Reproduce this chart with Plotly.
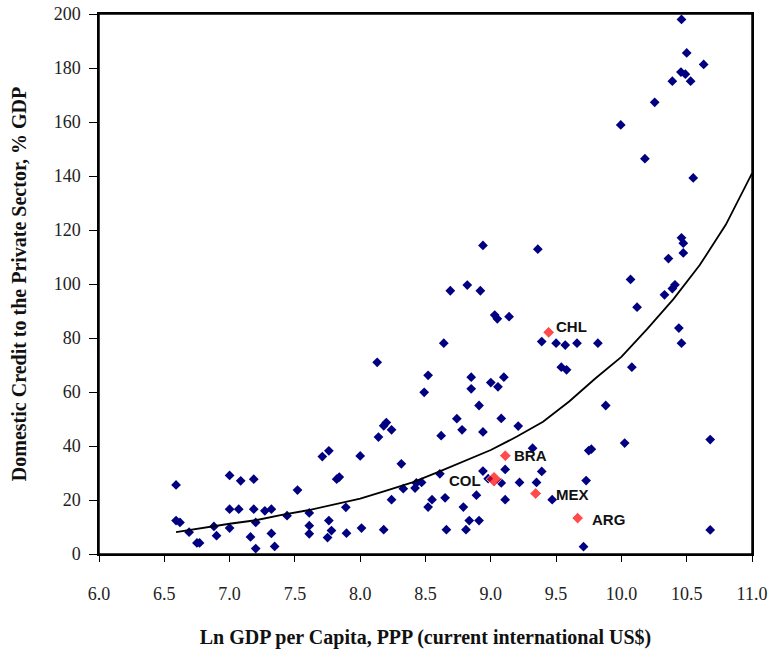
import plotly.graph_objects as go

# Blue points: Ln GDP per capita (x) and domestic credit % GDP (y)
blue_x = [6.59, 6.59, 6.62, 6.69, 6.75, 6.77, 6.88, 6.90, 7.00, 7.00, 7.00, 7.085, 7.07,
          7.185, 7.185, 7.20, 7.16, 7.20, 7.27, 7.32, 7.32, 7.345, 7.44, 7.52, 7.61, 7.61,
          7.61, 7.71, 7.76, 7.82, 7.84, 7.76, 7.78, 7.75, 7.89, 7.895,
          8.64, 8.13, 8.52, 8.49, 8.85, 8.85, 9.00, 9.055, 9.10, 8.91, 9.39, 9.50, 9.57,
          9.66, 9.82, 9.54, 9.58, 8.18, 8.20, 8.24, 8.14, 8.74, 8.78, 8.62, 8.94, 9.08,
          9.21, 8.00, 8.315, 9.32, 9.11, 8.94, 8.98, 9.08, 9.22, 9.35, 9.39, 8.61, 8.43,
          8.42, 8.47, 8.33, 8.24, 8.55, 8.52, 8.65, 8.89, 8.79, 9.11, 9.47, 9.73, 9.77,
          9.75, 8.01, 8.18, 8.66, 8.81, 8.835, 8.91, 9.71,
          8.94, 9.36, 8.69, 8.82, 8.92, 9.03, 9.05, 9.14, 10.07, 10.12, 10.08,
          10.46, 10.50, 10.63, 10.456, 10.49, 10.39, 10.53, 10.255, 9.995, 10.18, 10.55,
          10.46, 10.474, 10.474, 10.36, 10.41, 10.39, 10.33, 10.44, 10.46,
          9.88, 10.025, 10.68, 10.68]
blue_y = [25.6, 12.4, 11.7, 8.1, 4.1, 4.1, 10.2, 6.8, 29.1, 16.6, 9.6, 27.1, 16.6,
          27.7, 16.6, 11.7, 6.3, 2.0, 16.0, 16.6, 7.6, 2.8, 14.2, 23.7, 15.2, 10.5,
          7.5, 36.1, 38.2, 27.7, 28.5, 12.4, 8.7, 6.1, 17.3, 7.7,
          78.1, 71.0, 66.2, 59.9, 65.5, 61.2, 63.5, 61.9, 65.5, 55.0, 78.7, 78.1, 77.4,
          78.1, 78.1, 69.2, 68.2, 47.5, 48.7, 46.0, 43.3, 50.1, 46.0, 43.8, 45.2, 50.2,
          47.4, 36.3, 33.4, 39.2, 31.3, 30.7, 27.9, 26.3, 26.5, 26.5, 30.6, 29.7, 26.3,
          24.4, 26.5, 24.2, 20.1, 20.1, 17.4, 20.8, 21.8, 17.4, 20.1, 20.1, 27.2, 38.8,
          38.3, 9.6, 9.0, 9.0, 9.0, 12.4, 12.4, 2.7,
          114.3, 112.9, 97.5, 99.6, 97.5, 88.5, 87.1, 87.9, 101.7, 91.4, 69.2,
          198.0, 185.6, 181.3, 178.5, 177.7, 175.1, 175.1, 167.3, 158.9, 146.4, 139.3,
          117.1, 115.1, 111.5, 109.4, 99.7, 98.3, 96.0, 83.7, 78.1,
          55.0, 41.1, 42.4, 8.9]

# Highlighted Latin American countries
red_labels = ["CHL", "BRA", "COL", "MEX", "ARG"]
red_x = [9.443, 9.111, 9.025, 9.343, 9.665]
red_y = [82.1, 36.4, 27.7, 22.4, 13.3]

# Fitted trend line
trend_x = [6.59, 6.8, 7.0, 7.2, 7.4, 7.6, 7.8, 8.0, 8.2, 8.4, 8.6, 8.8, 9.0, 9.2,
           9.4, 9.6, 9.8, 10.0, 10.2, 10.4, 10.6, 10.8, 11.0]
trend_y = [8.1, 9.8, 11.2, 12.5, 14.5, 16.2, 18.3, 20.5, 23.5, 26.5, 30.4, 34.5, 38.5,
           43.5, 49.0, 56.5, 65.0, 73.0, 83.5, 94.5, 107.0, 122.0, 141.0]

x_ticks = [6.0, 6.5, 7.0, 7.5, 8.0, 8.5, 9.0, 9.5, 10.0, 10.5, 11.0]
y_ticks = [0, 20, 40, 60, 80, 100, 120, 140, 160, 180, 200]

fig = go.Figure()
fig.add_trace(go.Scatter(x=blue_x, y=blue_y, mode="markers",
                         marker=dict(symbol="diamond", size=7.5, color="#000080"),
                         showlegend=False, hoverinfo="skip", cliponaxis=False))
fig.add_trace(go.Scatter(x=trend_x, y=trend_y, mode="lines",
                         line=dict(color="black", width=1.8), showlegend=False,
                         hoverinfo="skip"))
red_sizes = [9 if lab != "COL" else 12 for lab in red_labels]
fig.add_trace(go.Scatter(x=red_x, y=red_y, mode="markers",
                         marker=dict(symbol="diamond", size=red_sizes, color="#FF0000"),
                         showlegend=False, hoverinfo="skip"))

label_offsets = {"CHL": (5, 6, "left"), "BRA": (7, 0, "left"), "COL": (-11, -1, "right"),
                 "MEX": (18, -1, "left"), "ARG": (12, -1, "left")}
for lab, xv, yv in zip(red_labels, red_x, red_y):
    dx, dy, anchor = label_offsets[lab]
    fig.add_annotation(x=xv, y=yv, text=lab, showarrow=False, xanchor=anchor,
                       yanchor="middle", xshift=dx, yshift=dy,
                       font=dict(family="Arial, Liberation Sans, sans-serif", size=15,
                                 color="#111111", weight="bold"))

# plot-area frame
fig.add_shape(type="rect", xref="x domain", yref="y domain", x0=0, x1=1, y0=0, y1=1,
              line=dict(color="black", width=1.5), fillcolor="rgba(0,0,0,0)",
              layer="above")

serif = "Liberation Serif, Times New Roman, serif"
axis_font = dict(family=serif, size=18, color="#222222")
title_font = dict(family=serif, size=20, color="#111111", weight="bold")

fig.update_layout(
    width=771, height=651,
    margin=dict(l=99, r=19, t=14, b=97, autoexpand=False),
    plot_bgcolor="white", paper_bgcolor="white",
    xaxis=dict(range=[6.0, 11.0], tickvals=x_ticks,
               ticktext=[f"{v:.1f}" for v in x_ticks], automargin=False,
               showgrid=False, zeroline=False, showline=True, linecolor="black",
               linewidth=1.5, mirror=True, ticks="outside", ticklen=6,
               tickcolor="black", tickfont=axis_font, ticklabelstandoff=17,
               title=dict(text="Ln GDP per Capita, PPP (current international US$)",
                          font=title_font, standoff=27)),
    yaxis=dict(range=[0, 200], tickvals=y_ticks, automargin=False,
               showgrid=False, zeroline=False, showline=True, linecolor="black",
               linewidth=1.5, mirror=True, ticks="outside", ticklen=8,
               tickcolor="black", tickfont=axis_font, ticklabelstandoff=5,
               title=dict(text="Domestic Credit to the Private Sector, % GDP",
                          font=title_font, standoff=22)),
)

fig.write_html("out.html")
